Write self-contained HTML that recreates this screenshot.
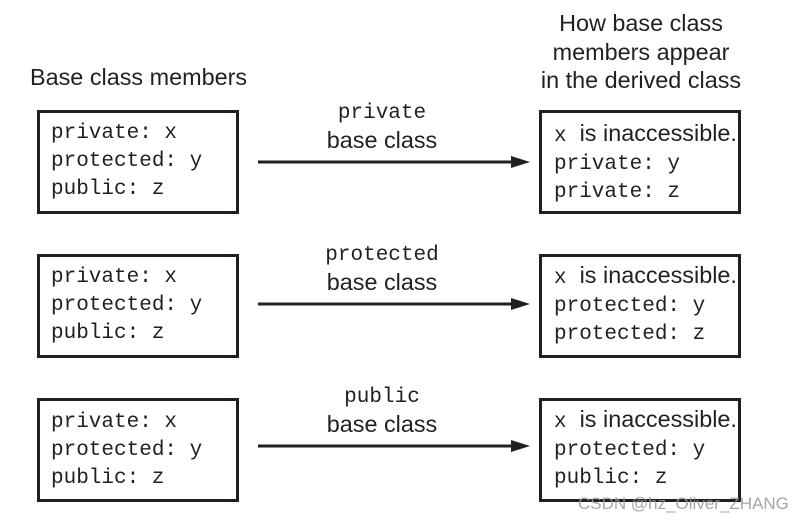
<!DOCTYPE html>
<html><head><style>
body{margin:0;width:809px;height:522px;background:#fff;position:relative;overflow:hidden;font-family:"Liberation Sans",sans-serif;color:#231f20}
.box{position:absolute;width:196px;height:98px;border:3.5px solid #231f20;box-sizing:content-box}
.m{font-family:"Liberation Mono",monospace;font-size:21px}
.t{position:absolute;white-space:nowrap;line-height:28px}
.s{font-family:"Liberation Sans",sans-serif;font-size:23.4px}
.c{transform:translateX(-50%);text-align:center}
</style></head><body>
<div class="t s" style="left:30px;top:63px">Base class members</div>
<div class="t s c" style="left:641px;top:9px;line-height:28.5px">How base class<br>members appear<br>in the derived class</div>

<div class="box" style="left:37px;top:110px"></div>
<div class="box" style="left:37px;top:254px"></div>
<div class="box" style="left:37px;top:398px"></div>
<div class="box" style="left:539px;top:110px"></div>
<div class="box" style="left:539px;top:254px"></div>
<div class="box" style="left:539px;top:398px"></div>

<div class="t m" style="left:51px;top:120px">private: x<br>protected: y<br>public: z</div>
<div class="t m" style="left:51px;top:264px">private: x<br>protected: y<br>public: z</div>
<div class="t m" style="left:51px;top:409px">private: x<br>protected: y<br>public: z</div>

<div class="t" style="left:554px;top:119px"><span class="m">x</span><span class="s">&nbsp; is inaccessible.</span><br><span class="m">private: y<br>private: z</span></div>
<div class="t" style="left:554px;top:261px"><span class="m">x</span><span class="s">&nbsp; is inaccessible.</span><br><span class="m">protected: y<br>protected: z</span></div>
<div class="t" style="left:554px;top:405px"><span class="m">x</span><span class="s">&nbsp; is inaccessible.</span><br><span class="m">protected: y<br>public: z</span></div>

<div class="t c" style="left:382px;top:101px;line-height:26px"><span class="m">private</span><br><span class="s">base class</span></div>
<div class="t c" style="left:382px;top:243px;line-height:26px"><span class="m">protected</span><br><span class="s">base class</span></div>
<div class="t c" style="left:382px;top:385px;line-height:26px"><span class="m">public</span><br><span class="s">base class</span></div>

<svg width="809" height="522" style="position:absolute;left:0;top:0">
<g stroke="#231f20" stroke-width="3" fill="#231f20">
<line x1="258" y1="162" x2="515" y2="162"/><polygon points="530,162 511,156 511,168" stroke="none"/>
<line x1="258" y1="304" x2="515" y2="304"/><polygon points="530,304 511,298 511,310" stroke="none"/>
<line x1="258" y1="446" x2="515" y2="446"/><polygon points="530,446 511,440 511,452" stroke="none"/>
</g></svg>
<div class="t" style="left:578px;top:490px;font-size:17px;color:rgba(150,150,150,0.85)">CSDN @hz_Oliver_ZHANG</div>
</body></html>
